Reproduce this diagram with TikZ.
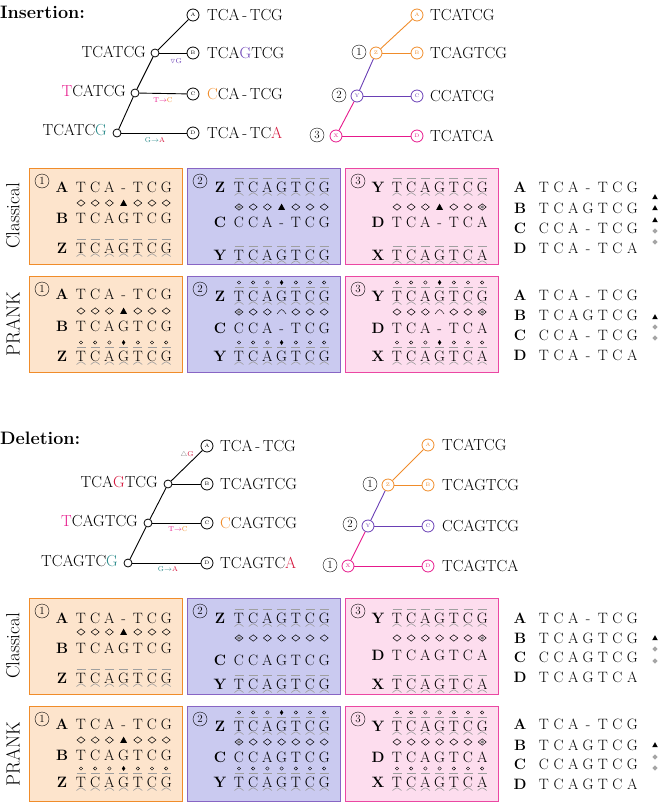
\documentclass[tikz,border=0pt]{standalone}
\usepackage{amssymb}
\definecolor{ornT}{HTML}{F08C2A}
\definecolor{purT}{HTML}{6A3FB5}
\definecolor{magT}{HTML}{E6198C}
\definecolor{tealT}{HTML}{2A8A8A}
\definecolor{redT}{HTML}{D4163C}
\definecolor{ornF}{HTML}{FDE4CC}
\definecolor{purF}{HTML}{CACAF0}
\definecolor{magF}{HTML}{FDDDEE}
\tikzset{
  x=1pt,y=-1pt,
  seqch/.style={inner sep=0pt,font=\fontsize{15}{15}\selectfont},
  labch/.style={inner sep=0pt,font=\fontsize{15}{15}\selectfont\bfseries},
  tlab/.style={inner sep=0pt,font=\fontsize{16}{16}\selectfont},
  leaf/.style={circle,draw,line width=0.8pt,minimum size=12pt,inner sep=0pt,font=\fontsize{5}{5}\selectfont},
  inode/.style={circle,draw,fill=white,line width=0.8pt,minimum size=8pt,inner sep=0pt},
  cnum/.style={circle,draw,minimum size=14pt,inner sep=0pt,font=\fontsize{11}{11}\selectfont},
  elab/.style={inner sep=0pt,font=\fontsize{7}{7}\selectfont},
  title/.style={anchor=west,inner sep=0pt,font=\fontsize{18}{18}\selectfont\bfseries},
  rowlab/.style={rotate=90,inner sep=0pt,font=\fontsize{19}{19}\selectfont},
  edge/.style={line width=0.9pt},
  panO/.style={draw=ornT,fill=ornF,line width=0.8pt},
  panP/.style={draw=purT!80,fill=purF,line width=0.8pt},
  panM/.style={draw=magT!80,fill=magF,line width=0.8pt},
  deco/.style={draw=gray!75,line width=0.6pt}
}
\newcommand\seqR[4][14.2]{\foreach \c [count=\i] in {#4}{\pgfmathsetmacro\xx{#2+#1*(\i-1)}\node[seqch] at (\xx,#3) {\vphantom{T}\c};}}
\newcommand\ancR[3]{\foreach \c [count=\i] in {#3}{\pgfmathsetmacro\xx{#1+14.2*(\i-1)}\node[seqch] at (\xx,#2) {\vphantom{T}\c};
  \draw[deco] (\xx-4.5,#2-9)--(\xx+4.5,#2-9);
  \draw[deco] (\xx-4.5,#2+8.5) .. controls (\xx,#2+5) .. (\xx+4.5,#2+8.5);}}
\newcommand\prkR[3]{\foreach \i in {1,...,7}{\pgfmathsetmacro\xx{#1+14.2*(\i-1)}
  \ifnum\i=#3 \fill (\xx,#2-16)--(\xx+1.7,#2-13.5)--(\xx,#2-11)--(\xx-1.7,#2-13.5)--cycle;
  \else \draw[line width=0.4pt] (\xx,#2-13.5) circle (1.7);\fi}}
\newcommand\diaR[3]{\foreach \c [count=\i] in {#3}{\pgfmathsetmacro\xx{#1+14.2*(\i-1)}
  \if t\c \fill (\xx-3.4,#2+2.8)--(\xx+3.4,#2+2.8)--(\xx,#2-3.4)--cycle;
  \else\if a\c \draw (\xx-4.5,#2+2) .. controls (\xx,#2-4) .. (\xx+4.5,#2+2);
  \else \draw[line width=0.5pt] (\xx,#2-3.2)--(\xx+4,#2)--(\xx,#2+3.2)--(\xx-4,#2)--cycle;
    \if g\c \fill[gray] (\xx,#2-1.6)--(\xx+2,#2)--(\xx,#2+1.6)--(\xx-2,#2)--cycle;\fi
  \fi\fi}}
\newcommand\labR[3]{\node[labch] at (#1,#2) {\vphantom{T}#3};}
\newcommand\panR[6]{\path[#5] (#1,#2) rectangle (#1+153,#3); \node[cnum] at (#1+13,#2+13) {#6};}
\newcommand\triM[2]{\fill (#1-2.8,#2+2.2)--(#1+2.8,#2+2.2)--(#1,#2-2.8)--cycle;}
\newcommand\gryM[2]{\fill[gray!70] (#1,#2-2.6)--(#1+2.6,#2)--(#1,#2+2.6)--(#1-2.6,#2)--cycle;}
\begin{document}
\begin{tikzpicture}
\useasboundingbox (0,0) rectangle (660,803);
% ================= INSERTION =================
\node[title] (tins) at (0,12) {Insertion:};
\node[leaf] (iA) at (193,15) {A};
\node[leaf] (iB) at (193,53) {B};
\node[leaf] (iC) at (193,94) {C};
\node[leaf] (iD) at (193,133) {D};
\node[inode] (i1) at (155,53) {};
\node[inode] (i2) at (135,93) {};
\node[inode] (i3) at (117,133) {};
\draw[edge] (i1)--(iA); \draw[edge] (i1)--(iB); \draw[edge] (i2)--(i1); \draw[edge] (i2)--(iC); \draw[edge] (i3)--(i2); \draw[edge] (i3)--(iD);
\node[tlab,anchor=east] (ti1) at (146,52) {TCATCG};
\node[tlab,anchor=east] (ti2) at (126,91) {\textcolor{magT}{T}CATCG};
\node[tlab,anchor=east] (ti3) at (107,130) {TCATC\textcolor{tealT}{G}};
\node[tlab,anchor=west] (tiA) at (207,15) {TCA\,-\,TCG};
\node[tlab,anchor=west] (tiB) at (207,53) {TCA\textcolor{purT}{G}TCG};
\node[tlab,anchor=west] (tiC) at (207,94) {\textcolor{ornT}{C}CA\,-\,TCG};
\node[tlab,anchor=west] (tiD) at (207,133) {TCA\,-\,TC\textcolor{redT}{A}};
\node[elab,text=purT] (eiB) at (176,61) {$\triangledown$G};
\node[elab] (eiC) at (163,100) {\textcolor{magT}{T$\to$}\textcolor{ornT}{C}};
\node[elab] (eiD) at (155,140) {\textcolor{tealT}{G$\to$}\textcolor{redT}{A}};
\node[leaf,ornT] (rA) at (417,15) {A};
\node[leaf,ornT] (rB) at (417,53) {B};
\node[leaf,purT] (rC) at (417,96) {C};
\node[leaf,magT] (rD) at (417,136) {D};
\node[leaf,ornT,fill=white] (rZ) at (376,53) {Z};
\node[leaf,purT,fill=white] (rY) at (357,96) {Y};
\node[leaf,magT,fill=white] (rX) at (336,136) {X};
\draw[edge,ornT] (rZ)--(rA); \draw[edge,ornT] (rZ)--(rB);
\draw[edge,purT] (rY)--(rZ); \draw[edge,purT] (rY)--(rC);
\draw[edge,magT] (rX)--(rY); \draw[edge,magT] (rX)--(rD);
\node[cnum] (ri1) at (359,52) {1};
\node[cnum] (ri2) at (339,95) {2};
\node[cnum] (ri3) at (317,135) {3};
\node[tlab,anchor=west] (trA) at (430,15) {TCATCG};
\node[tlab,anchor=west] (trB) at (430,53) {TCAGTCG};
\node[tlab,anchor=west] (trC) at (430,96) {CCATCG};
\node[tlab,anchor=west] (trD) at (430,136) {TCATCA};
% Classical insertion
\node[rowlab] (rl1) at (13,216) {Classical};
\panR{29}{168}{264}{}{panO}{1}
\labR{62}{187}{A}\seqR{81}{187}{T,C,A,-,T,C,G}
\diaR{81}{203}{d,d,d,t,d,d,d}
\labR{62}{218}{B}\seqR{81}{218}{T,C,A,G,T,C,G}
\labR{62}{248}{Z}\ancR{81}{248}{T,C,A,G,T,C,G}
\panR{187}{168}{264}{}{panP}{2}
\labR{220}{187}{Z}\ancR{239}{187}{T,C,A,G,T,C,G}
\diaR{239}{207}{g,d,d,t,d,d,d}
\labR{220}{222}{C}\seqR{239}{222}{C,C,A,-,T,C,G}
\labR{220}{255}{Y}\ancR{239}{255}{T,C,A,G,T,C,G}
\panR{345}{168}{264}{}{panM}{3}
\labR{378}{187}{Y}\ancR{397}{187}{T,C,A,G,T,C,G}
\diaR{397}{207}{d,d,d,t,d,d,g}
\labR{378}{222}{D}\seqR{397}{222}{T,C,A,-,T,C,A}
\labR{378}{255}{X}\ancR{397}{255}{T,C,A,G,T,C,A}
\labR{520}{187}{A}\seqR[14.7]{544}{187}{T,C,A,-,T,C,G}
\labR{520}{208}{B}\seqR[14.7]{544}{208}{T,C,A,G,T,C,G}
\labR{520}{228}{C}\seqR[14.7]{544}{228}{C,C,A,-,T,C,G}
\labR{520}{248}{D}\seqR[14.7]{544}{248}{T,C,A,-,T,C,A}
\triM{655}{197}\triM{655}{208}\triM{655}{220}\gryM{655}{231}\gryM{655}{242}
% PRANK insertion
\node[rowlab] (rl2) at (13,324) {PRANK};
\panR{29}{276}{372}{}{panO}{1}
\labR{62}{294}{A}\seqR{81}{294}{T,C,A,-,T,C,G}
\diaR{81}{311}{d,d,d,t,d,d,d}
\labR{62}{326}{B}\seqR{81}{326}{T,C,A,G,T,C,G}
\labR{62}{356}{Z}\ancR{81}{356}{T,C,A,G,T,C,G}\prkR{81}{356}{4}
\panR{187}{276}{372}{}{panP}{2}
\labR{220}{296}{Z}\ancR{239}{296}{T,C,A,G,T,C,G}\prkR{239}{296}{4}
\diaR{239}{312}{g,d,d,a,d,d,d}
\labR{220}{328}{C}\seqR{239}{328}{C,C,A,-,T,C,G}
\labR{220}{356}{Y}\ancR{239}{356}{T,C,A,G,T,C,G}\prkR{239}{356}{4}
\panR{345}{276}{372}{}{panM}{3}
\labR{378}{296}{Y}\ancR{397}{296}{T,C,A,G,T,C,G}\prkR{397}{296}{4}
\diaR{397}{312}{d,d,d,a,d,d,g}
\labR{378}{328}{D}\seqR{397}{328}{T,C,A,-,T,C,A}
\labR{378}{356}{X}\ancR{397}{356}{T,C,A,G,T,C,A}\prkR{397}{356}{4}
\labR{520}{295}{A}\seqR[14.7]{544}{295}{T,C,A,-,T,C,G}
\labR{520}{315}{B}\seqR[14.7]{544}{315}{T,C,A,G,T,C,G}
\labR{520}{335}{C}\seqR[14.7]{544}{335}{C,C,A,-,T,C,G}
\labR{520}{355}{D}\seqR[14.7]{544}{355}{T,C,A,-,T,C,A}
\triM{655}{317}\gryM{655}{327}\gryM{655}{338}
% ================= DELETION =================
\node[title] (tdel) at (0,438) {Deletion:};
\node[leaf] (dA) at (207,446) {A};
\node[leaf] (dB) at (207,484) {B};
\node[leaf] (dC) at (207,523) {C};
\node[leaf] (dD) at (207,563) {D};
\node[inode] (d1) at (168,484) {};
\node[inode] (d2) at (148,523) {};
\node[inode] (d3) at (128,563) {};
\draw[edge] (d1)--(dA); \draw[edge] (d1)--(dB); \draw[edge] (d2)--(d1); \draw[edge] (d2)--(dC); \draw[edge] (d3)--(d2); \draw[edge] (d3)--(dD);
\node[tlab,anchor=east] (td1) at (158,482) {TCA\textcolor{redT}{G}TCG};
\node[tlab,anchor=east] (td2) at (138,521) {\textcolor{magT}{T}CAGTCG};
\node[tlab,anchor=east] (td3) at (118,561) {TCAGTC\textcolor{tealT}{G}};
\node[tlab,anchor=west] (tdA) at (220,446) {TCA\,-\,TCG};
\node[tlab,anchor=west] (tdB) at (220,484) {TCAGTCG};
\node[tlab,anchor=west] (tdC) at (220,523) {\textcolor{ornT}{C}CAGTCG};
\node[tlab,anchor=west] (tdD) at (220,563) {TCAGTC\textcolor{redT}{A}};
\node[elab] (edA) at (187,455) {\textcolor{gray}{$\triangle$}\textcolor{redT}{G}};
\node[elab] (edC) at (178,529) {\textcolor{magT}{T$\to$}\textcolor{ornT}{C}};
\node[elab] (edD) at (168,569) {\textcolor{tealT}{G$\to$}\textcolor{redT}{A}};
\node[leaf,ornT] (sA) at (428,445) {A};
\node[leaf,ornT] (sB) at (428,485) {B};
\node[leaf,purT] (sC) at (428,526) {C};
\node[leaf,magT] (sD) at (428,566) {D};
\node[leaf,ornT,fill=white] (sZ) at (388,485) {Z};
\node[leaf,purT,fill=white] (sY) at (368,526) {Y};
\node[leaf,magT,fill=white] (sX) at (348,566) {X};
\draw[edge,ornT] (sZ)--(sA); \draw[edge,ornT] (sZ)--(sB);
\draw[edge,purT] (sY)--(sZ); \draw[edge,purT] (sY)--(sC);
\draw[edge,magT] (sX)--(sY); \draw[edge,magT] (sX)--(sD);
\node[cnum] (rd1) at (370,484) {1};
\node[cnum] (rd2) at (350,524) {2};
\node[cnum] (rd3) at (330,565) {1};
\node[tlab,anchor=west] (tsA) at (442,445) {TCATCG};
\node[tlab,anchor=west] (tsB) at (442,485) {TCAGTCG};
\node[tlab,anchor=west] (tsC) at (442,526) {CCAGTCG};
\node[tlab,anchor=west] (tsD) at (442,566) {TCAGTCA};
% Classical deletion
\node[rowlab] (rl3) at (13,646) {Classical};
\panR{29}{598}{694}{}{panO}{1}
\labR{62}{618}{A}\seqR{81}{618}{T,C,A,-,T,C,G}
\diaR{81}{632}{d,d,d,t,d,d,d}
\labR{62}{648}{B}\seqR{81}{648}{T,C,A,G,T,C,G}
\labR{62}{678}{Z}\ancR{81}{678}{T,C,A,G,T,C,G}
\panR{187}{598}{694}{}{panP}{2}
\labR{220}{618}{Z}\ancR{239}{618}{T,C,A,G,T,C,G}
\diaR{239}{638}{g,d,d,d,d,d,d}
\labR{220}{660}{C}\seqR{239}{660}{C,C,A,G,T,C,G}
\labR{220}{684}{Y}\ancR{239}{684}{T,C,A,G,T,C,G}
\panR{345}{598}{694}{}{panM}{3}
\labR{378}{618}{Y}\ancR{397}{618}{T,C,A,G,T,C,G}
\diaR{397}{638}{d,d,d,d,d,d,g}
\labR{378}{655}{D}\seqR{397}{655}{T,C,A,G,T,C,A}
\labR{378}{684}{X}\ancR{397}{684}{T,C,A,G,T,C,A}
\labR{520}{618}{A}\seqR[14.7]{544}{618}{T,C,A,-,T,C,G}
\labR{520}{638}{B}\seqR[14.7]{544}{638}{T,C,A,G,T,C,G}
\labR{520}{657}{C}\seqR[14.7]{544}{657}{C,C,A,G,T,C,G}
\labR{520}{677}{D}\seqR[14.7]{544}{677}{T,C,A,G,T,C,A}
\triM{655}{638}\gryM{655}{649}\gryM{655}{661}
% PRANK deletion
\node[rowlab] (rl4) at (13,754) {PRANK};
\panR{29}{706}{801}{}{panO}{1}
\labR{62}{724}{A}\seqR{81}{724}{T,C,A,-,T,C,G}
\diaR{81}{740}{d,d,d,t,d,d,d}
\labR{62}{755}{B}\seqR{81}{755}{T,C,A,G,T,C,G}
\labR{62}{782}{Z}\ancR{81}{782}{T,C,A,G,T,C,G}\prkR{81}{782}{4}
\panR{187}{706}{801}{}{panP}{2}
\labR{220}{726}{Z}\ancR{239}{726}{T,C,A,G,T,C,G}\prkR{239}{726}{4}
\diaR{239}{742}{g,d,d,d,d,d,d}
\labR{220}{757}{C}\seqR{239}{757}{C,C,A,G,T,C,G}
\labR{220}{782}{Y}\ancR{239}{782}{T,C,A,G,T,C,G}\prkR{239}{782}{0}
\panR{345}{706}{801}{}{panM}{3}
\labR{378}{726}{Y}\ancR{397}{726}{T,C,A,G,T,C,G}\prkR{397}{726}{0}
\diaR{397}{742}{d,d,d,d,d,d,g}
\labR{378}{757}{D}\seqR{397}{757}{T,C,A,G,T,C,A}
\labR{378}{782}{X}\ancR{397}{782}{T,C,A,G,T,C,A}\prkR{397}{782}{0}
\labR{520}{724}{A}\seqR[14.7]{544}{724}{T,C,A,-,T,C,G}
\labR{520}{745}{B}\seqR[14.7]{544}{745}{T,C,A,G,T,C,G}
\labR{520}{764}{C}\seqR[14.7]{544}{764}{C,C,A,G,T,C,G}
\labR{520}{784}{D}\seqR[14.7]{544}{784}{T,C,A,G,T,C,A}
\triM{655}{745}\gryM{655}{757}\gryM{655}{768}
\end{tikzpicture}
\end{document}
